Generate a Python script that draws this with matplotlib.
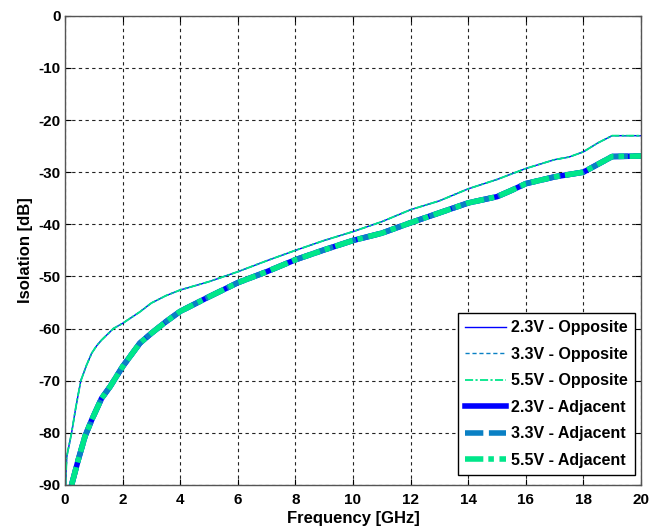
import matplotlib
matplotlib.use("Agg")
import matplotlib.pyplot as plt

# Frequency points (GHz) and isolation (dB)
freq_opp = [0.02, 0.06, 0.23, 0.38, 0.55, 0.75, 0.93, 1.1, 1.27, 1.68, 2.0, 2.6, 3.0, 3.5, 4.0, 5.0, 6.0, 7.0,
            8.0, 9.0, 10.0, 11.0, 12.0, 13.0, 14.0, 15.0, 16.0, 17.0, 17.5, 18.0, 18.5, 19.0, 20.0]
iso_opp = [-90, -84.6, -80.0, -75.0, -70.0, -67.0, -64.7, -63.3, -62.2, -60.0, -59.0, -56.8, -55.1, -53.7, -52.6,
           -51.0, -49.1, -47.0, -45.0, -43.1, -41.4, -39.5, -37.2, -35.5, -33.2, -31.4, -29.3, -27.6, -27.1,
           -26.1, -24.4, -23.0, -23.0]

freq_adj = [0.23, 0.46, 0.7, 0.93, 1.27, 1.57, 2.0, 2.6, 3.0, 3.5, 4.0, 5.0, 6.0, 7.0, 8.0, 9.0,
            10.0, 11.0, 12.0, 13.0, 14.0, 15.0, 15.5, 16.0, 17.0, 18.0, 18.5, 19.0, 20.0]
iso_adj = [-90, -85.2, -80.6, -77.5, -73.4, -71.1, -67.3, -62.8, -60.9, -58.7, -56.7, -53.9, -51.2, -49.1, -46.8,
           -44.9, -43.1, -41.7, -39.7, -37.8, -35.9, -34.7, -33.5, -32.2, -30.9, -30.0, -28.5, -27.0, -26.9]

labels_opp = ["2.3V - Opposite", "3.3V - Opposite", "5.5V - Opposite"]
labels_adj = ["2.3V - Adjacent", "3.3V - Adjacent", "5.5V - Adjacent"]
colors = ["#0000ff", "#0a80c4", "#00e68a"]

x_ticks = list(range(0, 21, 2))
y_ticks = list(range(-90, 1, 10))

plt.rcParams['font.family'] = ['Liberation Sans', 'DejaVu Sans']
plt.rcParams['font.weight'] = 'bold'
plt.rcParams['axes.unicode_minus'] = False

fig = plt.figure(figsize=(6.51, 5.29), dpi=100)
ax = fig.add_axes([0.0998, 0.0832, 0.8848, 0.887])

styles_opp = ['-', (0, (3, 2)), (0, (4.5, 1.3, 1.2, 1.3))]
widths_opp = [1.0, 1.0, 1.3]
styles_adj = ['-', (0, (3.3, 1.0)), (0, (3.3, 0.9, 1.0, 1.0))]

for lab, c, ls, lw in zip(labels_opp, colors, styles_opp, widths_opp):
    ax.plot(freq_opp, iso_opp, color=c, linestyle=ls, linewidth=lw, label=lab)
for lab, c, ls in zip(labels_adj, colors, styles_adj):
    ax.plot(freq_adj, iso_adj, color=c, linestyle=ls, linewidth=4.0, label=lab)

ax.set_xlim(0, 20)
ax.set_ylim(-90, 0)
ax.set_xticks(x_ticks)
ax.set_yticks(y_ticks)
ax.tick_params(direction='in', top=True, right=True, labelsize=11, length=4, width=0.8, pad=3)
ax.tick_params(axis='x', pad=6)
for lbl in ax.get_xticklabels() + ax.get_yticklabels():
    lbl.set_fontweight('bold')
ax.grid(True, color='#222222', linestyle=(0, (3, 3)), linewidth=0.8)
for s in ax.spines.values():
    s.set_color('#555555')
    s.set_linewidth(1.0)

ax.set_xlabel("Frequency [GHz]", fontsize=12, fontweight='bold', labelpad=3)
ax.set_ylabel("Isolation [dB]", fontsize=12, fontweight='bold', labelpad=4)

leg = ax.legend(loc='lower right', bbox_to_anchor=(0.9896, 0.0213), fontsize=11.5, handlelength=2.6,
                fancybox=False, framealpha=1, edgecolor='black', borderaxespad=0.0, labelspacing=0.72,
                handletextpad=0.3, borderpad=0.45)
leg.get_frame().set_linewidth(1.0)
for t in leg.get_texts():
    t.set_fontweight('bold')

fig.savefig("out.png", dpi=100)
